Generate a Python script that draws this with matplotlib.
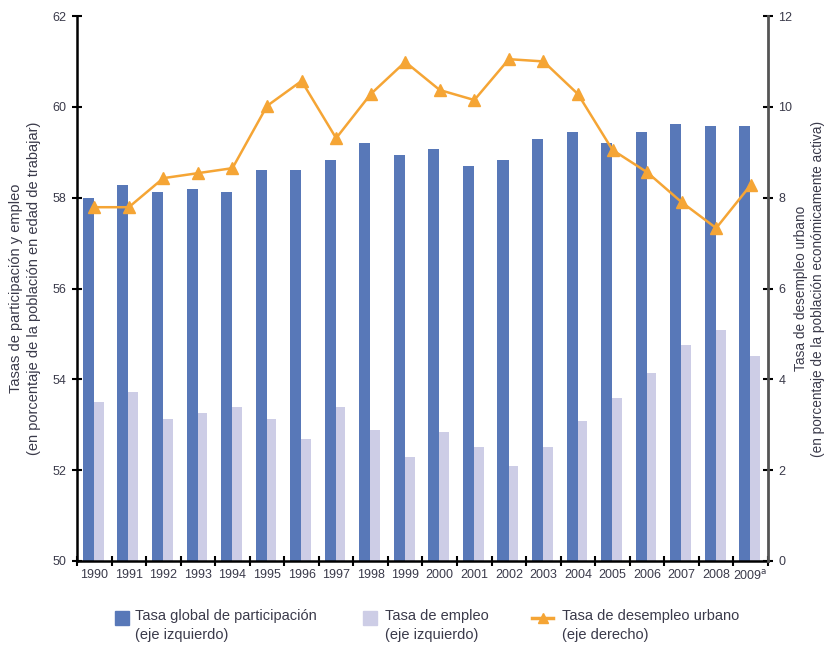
import numpy as np
import matplotlib.pyplot as plt
from matplotlib.patches import Rectangle
from matplotlib.lines import Line2D

plt.rcParams['font.family'] = ['Liberation Sans', 'DejaVu Sans']

# Datos
anios = ["1990", "1991", "1992", "1993", "1994", "1995", "1996", "1997", "1998", "1999",
         "2000", "2001", "2002", "2003", "2004", "2005", "2006", "2007", "2008", "2009$^{\\mathrm{a}}$"]
tasa_participacion = [58.0, 58.28, 58.12, 58.19, 58.12, 58.6, 58.6, 58.83, 59.2, 58.94,
                      59.07, 58.7, 58.83, 59.3, 59.44, 59.2, 59.44, 59.62, 59.58, 59.58]
tasa_empleo = [53.5, 53.72, 53.12, 53.26, 53.39, 53.12, 52.68, 53.39, 52.88, 52.29,
               52.84, 52.51, 52.09, 52.51, 53.08, 53.59, 54.14, 54.75, 55.08, 54.51]
tasa_desempleo = [7.79, 7.79, 8.43, 8.54, 8.65, 10.02, 10.57, 9.31, 10.28, 10.99,
                  10.37, 10.15, 11.05, 11.0, 10.28, 9.05, 8.56, 7.9, 7.33, 8.28]

azul = '#5878B8'
lila = '#CDCDE6'
naranja = '#F5A535'
gris = '#3a3a4a'

x = np.arange(len(anios))
W, H = 826, 646

fig = plt.figure(figsize=(8.26, 6.46), dpi=100)
ax = fig.add_axes([0.0932, 0.1316, 0.8366, 0.8436])

ax.bar(x - 0.17, tasa_participacion, width=0.32, color=azul, zorder=2)
ax.bar(x + 0.13, tasa_empleo, width=0.28, color=lila, zorder=2)
ax.set_ylim(50, 62)
ax.set_xlim(-0.5, len(anios) - 0.5)
ax.set_yticks(np.arange(50, 63, 2))

# ticks del eje x en los limites de cada categoria
ax.set_xticks(np.arange(-0.5, len(anios), 1))
ax.set_xticklabels([])
ax.set_xticks(x, minor=True)
ax.set_xticklabels(anios, minor=True, fontsize=9, color=gris)
ax.tick_params(axis='x', which='minor', length=0, pad=6)
ax.tick_params(axis='x', which='major', direction='inout', length=7, width=1.5)
ax.tick_params(axis='y', direction='inout', length=7, width=1.5, labelsize=9, labelcolor=gris, pad=4)

for s in ['top', 'right']:
    ax.spines[s].set_visible(False)
ax.spines['left'].set_linewidth(1.8)
ax.spines['bottom'].set_linewidth(1.8)

ax.set_ylabel("Tasas de participación y empleo\n(en porcentaje de la población en edad de trabajar)",
              fontsize=10.5, color=gris, labelpad=8, linespacing=1.45)

ax2 = ax.twinx()
ax2.plot(x, tasa_desempleo, color=naranja, linewidth=1.8, marker='^', markersize=8, zorder=3)
ax2.set_ylim(0, 12)
ax2.set_yticks(np.arange(0, 13, 2))
ax2.tick_params(axis='y', direction='inout', length=7, width=1.5, labelsize=9, labelcolor=gris, pad=4)
for s in ['top', 'left', 'bottom']:
    ax2.spines[s].set_visible(False)
ax2.spines['right'].set_linewidth(2)
ax2.spines['right'].set_color('#555555')
ax2.set_ylabel("Tasa de desempleo urbano\n(en porcentaje de la población económicamente activa)",
               fontsize=9.8, color=gris, rotation=90, labelpad=1, linespacing=1.25)

# Leyenda manual (marcador alineado con la primera linea del texto)
etiquetas = ["Tasa global de participación\n(eje izquierdo)",
             "Tasa de empleo\n(eje izquierdo)",
             "Tasa de desempleo urbano\n(eje derecho)"]
y_ley = 1 - 618 / H
fig.add_artist(Rectangle((115 / W, 1 - 625 / H), 14 / W, 14 / H, color=azul, transform=fig.transFigure))
fig.add_artist(Rectangle((363 / W, 1 - 625 / H), 14 / W, 14 / H, color=lila, transform=fig.transFigure))
fig.add_artist(Line2D([532 / W, 553 / W], [y_ley, y_ley], color=naranja, linewidth=2.5,
                      transform=fig.transFigure))
fig.add_artist(Line2D([542.5 / W], [y_ley], color=naranja, marker='^', markersize=7,
                      transform=fig.transFigure))
for xt, txt in zip([135, 385, 562], etiquetas):
    fig.text(xt / W, 1 - 609 / H, txt, fontsize=10.5, color=gris, va='top', ha='left', linespacing=1.5)

fig.savefig("out.png", dpi=100)
